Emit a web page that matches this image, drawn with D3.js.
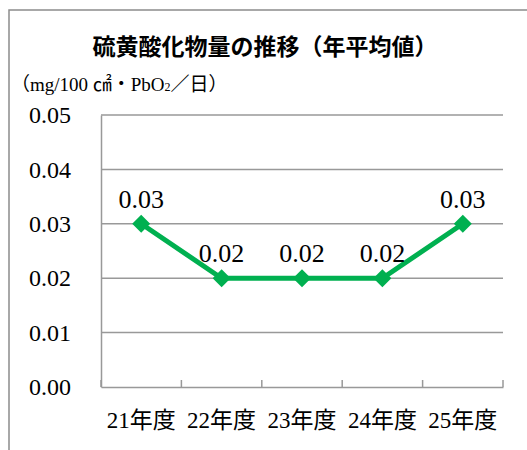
<!DOCTYPE html>
<html><head><meta charset="utf-8">
<script src="https://cdn.jsdelivr.net/npm/d3@7"></script>
<style>html,body{margin:0;padding:0;background:#fff;}</style>
</head><body>
<svg id="c" width="527" height="450"></svg>
<script>
const categories = ["21年度","22年度","23年度","24年度","25年度"];
const values = [0.03, 0.02, 0.02, 0.02, 0.03];
const yTicks = [0, 0.01, 0.02, 0.03, 0.04, 0.05];
const title = "硫黄酸化物量の推移（年平均値）";

const svg = d3.select("#c");
const serif = "'Liberation Serif', 'Noto Sans CJK JP', serif";
const grid = "#999";

svg.append("rect").attr("x",9).attr("y",10).attr("width",620).attr("height",500)
  .attr("fill","#fff").attr("stroke","#8c8c8c").attr("stroke-width",1.5);

const L=101, R=503, T=115, B=387;
const x = d3.scaleBand().domain(categories).range([L,R]);
const y = d3.scaleLinear().domain([0,0.05]).range([B,T]);

// gridlines
svg.append("g").selectAll("line").data(yTicks.filter(d=>d>0)).join("line")
  .attr("x1",L).attr("x2",R).attr("y1",d=>y(d)).attr("y2",d=>y(d))
  .attr("stroke",grid).attr("stroke-width",1.5);

// y axis
const ya = svg.append("g").attr("transform",`translate(${L},0)`)
  .call(d3.axisLeft(y).tickValues(yTicks).tickSize(0).tickPadding(30).tickFormat(d3.format(".2f")));
ya.select(".domain").attr("stroke",grid).attr("stroke-width",1.5);
ya.selectAll("text").attr("font-family",serif).attr("font-size",24).attr("fill","#000");

// x axis with inward ticks
const xa = svg.append("g").attr("transform",`translate(0,${B})`)
  .call(d3.axisBottom(x).tickSize(0).tickPadding(25));
xa.select(".domain").attr("stroke",grid).attr("stroke-width",1.5);
xa.selectAll("text").attr("font-family",serif).attr("font-size",23).attr("fill","#000");
const bounds = categories.map(c=>x(c)+x.bandwidth()).concat([L]);
xa.append("g").selectAll("line").data(bounds).join("line")
  .attr("x1",d=>d).attr("x2",d=>d).attr("y1",0).attr("y2",-7)
  .attr("stroke",grid).attr("stroke-width",1.5);

// line
const cx = c=>x(c)+x.bandwidth()/2;
const line = d3.line().x((d,i)=>cx(categories[i])).y(d=>y(d));
svg.append("path").datum(values).attr("d",line).attr("fill","none")
  .attr("stroke","#00B050").attr("stroke-width",5).attr("stroke-linejoin","round");

svg.append("g").selectAll("path").data(values).join("path")
  .attr("transform",(d,i)=>`translate(${cx(categories[i])},${y(d)})`)
  .attr("d","M0,-9L9,0L0,9L-9,0Z").attr("fill","#00B050");

svg.append("g").selectAll("text").data(values).join("text")
  .attr("x",(d,i)=>cx(categories[i])).attr("y",d=>y(d)-16)
  .attr("text-anchor","middle").attr("font-family",serif).attr("font-size",26)
  .text(d=>d3.format(".2f")(d));

// title
svg.append("text").attr("x",265).attr("y",55).attr("text-anchor","middle")
  .attr("font-family","'Noto Sans CJK JP', sans-serif").attr("font-weight","bold").attr("font-size",23)
  .text(title);

// unit
const u = svg.append("text").attr("x",11).attr("y",91).attr("font-family",serif).attr("font-size",19);
u.append("tspan").text("（mg/100 ㎠・PbO");
u.append("tspan").attr("font-size",12).text("2");
u.append("tspan").text("／日）");
</script>
</body></html>
